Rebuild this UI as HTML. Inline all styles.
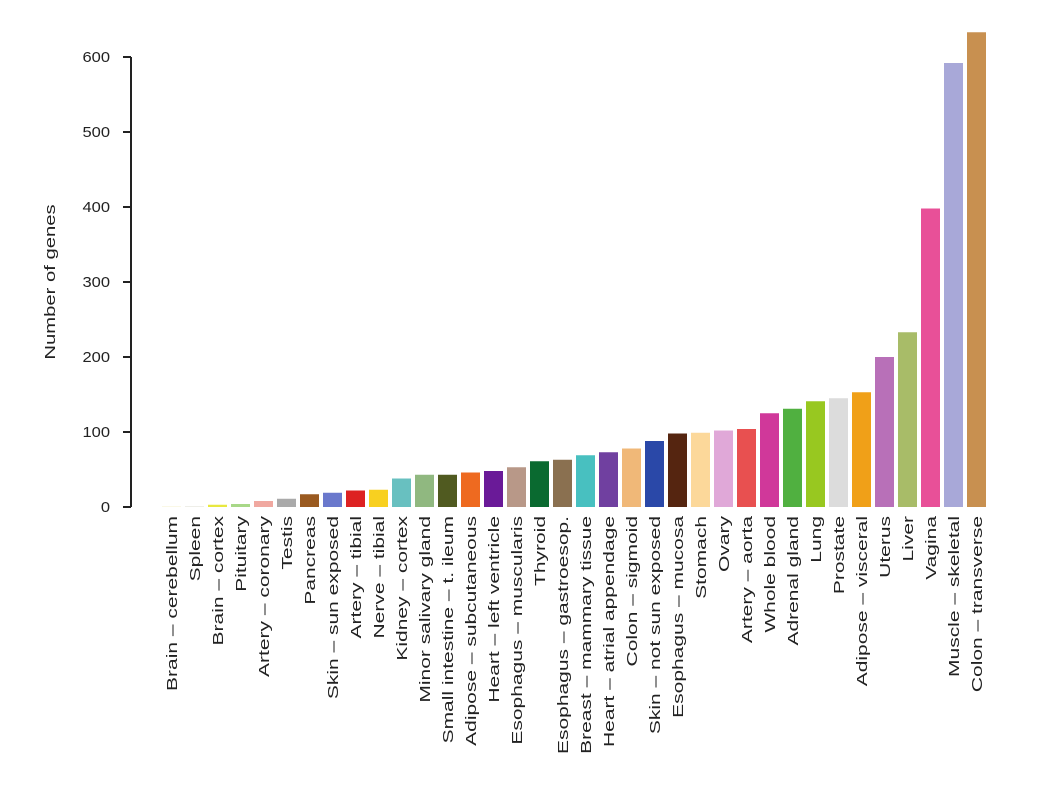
<!DOCTYPE html>
<html><head><meta charset="utf-8"><style>body{margin:0;background:#fff}</style></head><body>
<svg width="1040" height="782" xmlns="http://www.w3.org/2000/svg" font-family="Liberation Sans, sans-serif" font-size="15" fill="#222">
<g id="bars"></g>
<line x1="131" y1="57" x2="131" y2="507" stroke="#222" stroke-width="2"/>
<g stroke="#222" stroke-width="2">
<line x1="123" y1="507" x2="131" y2="507"/><line x1="123" y1="432" x2="131" y2="432"/><line x1="123" y1="357" x2="131" y2="357"/><line x1="123" y1="282" x2="131" y2="282"/><line x1="123" y1="207" x2="131" y2="207"/><line x1="123" y1="132" x2="131" y2="132"/><line x1="123" y1="57" x2="131" y2="57"/>
</g>
<g text-anchor="end">
<text transform="translate(110,512) scale(1.1,1)">0</text><text transform="translate(110,437) scale(1.1,1)">100</text><text transform="translate(110,362) scale(1.1,1)">200</text><text transform="translate(110,287) scale(1.1,1)">300</text><text transform="translate(110,212) scale(1.1,1)">400</text><text transform="translate(110,137) scale(1.1,1)">500</text><text transform="translate(110,62) scale(1.1,1)">600</text>
</g>
<text transform="translate(55,282) rotate(-90) scale(1.35,1)" text-anchor="middle">Number of genes</text>
<g id="labels" text-anchor="end"></g>
<script>
var d=[["Brain – cerebellum",0.6,"#f3f0c8"],["Spleen",1,"#e8e8e0"],["Brain – cortex",3,"#e8e840"],["Pituitary",4,"#a8d888"],["Artery – coronary",8,"#f0a8a0"],["Testis",11,"#aaaaaa"],["Pancreas",17,"#9a5a20"],["Skin – sun exposed",19,"#6a78cc"],["Artery – tibial",22,"#dd2222"],["Nerve – tibial",23,"#f8d020"],["Kidney – cortex",38,"#68c0c0"],["Minor salivary gland",43,"#90b880"],["Small intestine – t. ileum",43,"#505a20"],["Adipose – subcutaneous",46,"#ee6a20"],["Heart – left ventricle",48,"#6a1a98"],["Esophagus – muscularis",53,"#b89888"],["Thyroid",61,"#0a6a30"],["Esophagus – gastroesop.",63,"#8a7050"],["Breast – mammary tissue",69,"#48c0c0"],["Heart – atrial appendage",73,"#7040a0"],["Colon – sigmoid",78,"#f0b878"],["Skin – not sun exposed",88,"#2a48a8"],["Esophagus – mucosa",98,"#552510"],["Stomach",99,"#fcd89a"],["Ovary",102,"#e0a8d8"],["Artery – aorta",104,"#e85050"],["Whole blood",125,"#d0389a"],["Adrenal gland",131,"#50b040"],["Lung",141,"#98c820"],["Prostate",145,"#dcdcdc"],["Adipose – visceral",153,"#f0a018"],["Uterus",200,"#b870b8"],["Liver",233,"#a8bc68"],["Vagina",398,"#e85098"],["Muscle – skeletal",592,"#a8a8d8"],["Colon – transverse",633,"#c89050"]];
var ns="http://www.w3.org/2000/svg",b=document.getElementById("bars"),l=document.getElementById("labels");
d.forEach(function(e,i){var x=162+i*23,h=e[1]*0.75;
var r=document.createElementNS(ns,"rect");r.setAttribute("x",x);r.setAttribute("width",19);r.setAttribute("y",507-h);r.setAttribute("height",h);r.setAttribute("fill",e[2]);b.appendChild(r);
var t=document.createElementNS(ns,"text");t.setAttribute("transform","translate("+(x+15)+",516) rotate(-90) scale(1.4,1)");t.textContent=e[0];l.appendChild(t);});
</script>
</svg>
</body></html>
